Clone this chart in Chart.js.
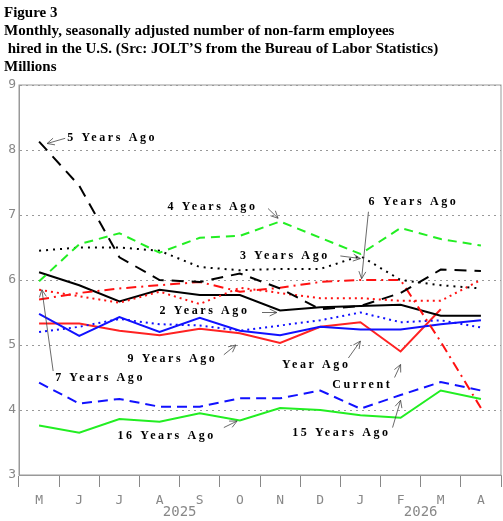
<!DOCTYPE html>
<html><head><meta charset="utf-8">
<script src="https://cdn.jsdelivr.net/npm/chart.js@4/dist/chart.umd.min.js"></script>
<style>body{margin:0;background:#fff}#w{width:503px;height:521px}</style>
</head><body><div id="w"><canvas id="c"></canvas></div>
<script>
const months=['M','J','J','A','S','O','N','D','J','F','M','A'];
const yTicks=[3,4,5,6,7,8,9];
const current=[5.33,5.33,5.22,5.15,5.25,5.18,5.03,5.28,5.35,4.9,5.55,null];
const yearAgo=[5.48,5.14,5.43,5.2,5.42,5.22,5.15,5.28,5.24,5.24,5.32,5.38];
const y2=[6.12,5.92,5.67,5.85,5.77,5.77,5.53,5.58,5.6,5.62,5.45,5.45];
const y3=[6.45,6.5,6.5,6.45,6.2,6.15,6.17,6.17,6.37,6.0,5.92,5.87];
const y4=[5.98,6.55,6.72,6.42,6.65,6.68,6.9,6.65,6.4,6.8,6.63,6.53];
const y5=[8.13,7.45,6.35,6.0,5.97,6.1,5.87,5.55,5.6,5.8,6.16,6.14];
const y6=[5.7,5.8,5.87,5.92,5.97,5.82,5.88,5.97,6.0,6.0,5.05,4.03];
const y7=[5.85,5.75,5.65,5.82,5.63,5.88,5.8,5.72,5.72,5.68,5.68,6.0];
const y9=[5.2,5.28,5.4,5.32,5.3,5.22,5.3,5.38,5.5,5.35,5.38,5.27];
const y15=[4.42,4.1,4.17,4.05,4.05,4.18,4.18,4.3,4.02,4.23,4.43,4.3];
const y16=[3.76,3.65,3.86,3.82,3.95,3.84,4.03,4.0,3.92,3.88,4.3,4.17];
const notes=[
['5 Years Ago',0.7,8.18,[0.65,8.18],[0.2,8.1]],
['4 Years Ago',3.2,7.13,[5.7,7.1],[5.95,6.95]],
['6 Years Ago',8.2,7.2,[8.2,7.05],[8.03,6.02]],
['3 Years Ago',5.0,6.37,[7.5,6.37],[8.0,6.33]],
['2 Years Ago',3.0,5.52,[5.55,5.5],[5.92,5.5]],
['9 Years Ago',2.2,4.78,[4.6,4.85],[4.9,5.0]],
['7 Years Ago',0.4,4.5,[0.35,4.6],[0.07,5.85]],
['Year Ago',6.05,4.7,[7.7,4.8],[8.0,5.06]],
['Current',7.3,4.38,[8.85,4.5],[9.0,4.7]],
['16 Years Ago',1.95,3.6,[4.6,3.73],[4.93,3.83]],
['15 Years Ago',6.3,3.65,[8.8,3.73],[9.0,4.15]]];
const ds=(d,c,dash)=>({data:d,borderColor:c,borderWidth:2,borderDash:dash,pointRadius:0,fill:false,tension:0,spanGaps:false});
const deco={id:'deco',afterDraw(ch){
 const y=ch.scales.y,ctx=ch.ctx,a=ch.chartArea;
 const px=i=>a.left+(i+0.5)*(a.right-a.left)/12;
 ctx.save();
 ctx.fillStyle='#000';ctx.font='bold 15px "Liberation Serif"';ctx.textBaseline='alphabetic';
 ['Figure 3','Monthly, seasonally adjusted number of non-farm employees',' hired in the U.S. (Src: JOLT\u2019S from the Bureau of Labor Statistics)','Millions'].forEach((t,i)=>ctx.fillText(t,4,17+i*18));
 ctx.strokeStyle='#999';ctx.lineWidth=1;ctx.strokeRect(a.left,a.top,a.right-a.left,a.bottom-a.top);
 ctx.fillStyle='#888';ctx.font='14px "DejaVu Sans Mono"';ctx.textAlign='center';
 ctx.fillText('2025',px(3.5),516);ctx.fillText('2026',px(9.5),516);
 ctx.font='bold 12px "Liberation Serif"';ctx.letterSpacing='2.6px';ctx.textAlign='left';ctx.textBaseline='middle';
 notes.forEach(n=>{
  ctx.fillStyle='#000';ctx.fillText(n[0],px(n[1]),y.getPixelForValue(n[2]));
  const x1=px(n[3][0]),y1=y.getPixelForValue(n[3][1]),x2=px(n[4][0]),y2=y.getPixelForValue(n[4][1]);
  ctx.strokeStyle='#444';ctx.lineWidth=0.8;ctx.beginPath();ctx.moveTo(x1,y1);ctx.lineTo(x2,y2);
  const ang=Math.atan2(y2-y1,x2-x1),L=8;
  ctx.moveTo(x2-L*Math.cos(ang-0.45),y2-L*Math.sin(ang-0.45));ctx.lineTo(x2,y2);
  ctx.lineTo(x2-L*Math.cos(ang+0.45),y2-L*Math.sin(ang+0.45));ctx.stroke();
 });
 ctx.restore();
}};
new Chart(document.getElementById('c'),{type:'line',
data:{labels:months,datasets:[
ds(y5,'#000',[12,8]),ds(y4,'#22ee22',[9,6]),ds(y3,'#000',[2,5]),ds(y7,'#ff1111',[2,4]),
ds(y6,'#ff1111',[10,5,2,5]),ds(y9,'#1111ff',[2,4]),ds(y15,'#1111ff',[10,6]),
ds(y2,'#000',[]),ds(y16,'#22ee22',[]),ds(yearAgo,'#1111ff',[]),ds(current,'#ff2222',[])]},
options:{responsive:true,maintainAspectRatio:false,animation:false,
layout:{padding:{top:85,right:2,left:0,bottom:0}},
plugins:{legend:{display:false},title:{display:false},tooltip:{enabled:false}},
scales:{
x:{offset:true,grid:{offset:true,drawOnChartArea:false,color:'#888',tickLength:12},border:{color:'#999'},
 ticks:{color:'#888',font:{family:'DejaVu Sans Mono',size:13},padding:6,maxRotation:0,autoSkip:false},
 afterFit(s){s.height=46;}},
y:{min:3,max:9,afterBuildTicks(s){s.ticks=yTicks.map(v=>({value:v}));},
 grid:{color:'#999',drawTicks:false,lineWidth:1},border:{display:true,color:'#999',dash:[2,4]},
 ticks:{color:'#888',font:{family:'DejaVu Sans Mono',size:13},padding:3},
 afterFit(s){s.width=19;}}}},
plugins:[deco]});
</script></body></html>
